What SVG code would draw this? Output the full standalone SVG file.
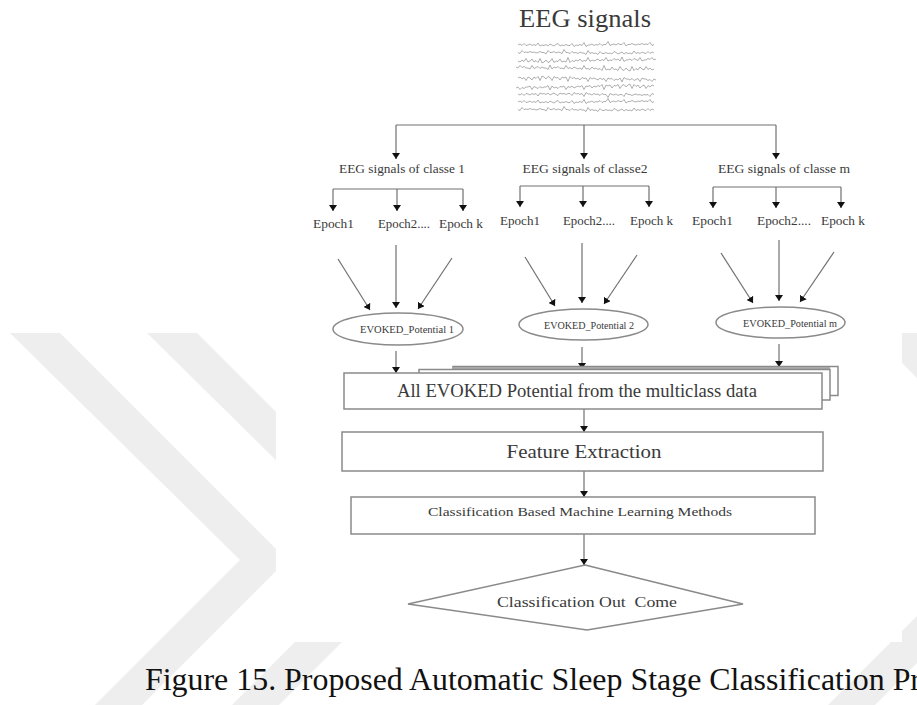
<svg xmlns="http://www.w3.org/2000/svg" width="917" height="705" viewBox="0 0 917 705">
  <style>
    .wm { fill: #eeeeee; }
    .ln { stroke: #707070; stroke-width: 1.2; fill: none; }
    .arr { stroke: #707070; stroke-width: 1.2; fill: none; marker-end: url(#ah); }
    .box { fill: #ffffff; stroke: #8a8a8a; stroke-width: 1.5; }
    .eeg { fill: none; stroke: #7a7a7a; stroke-width: 0.6; }
    .t { font-family: "Liberation Serif", "DejaVu Serif", serif; fill: #3a3a3a; text-anchor: middle; }
  </style>
  <defs>
    <marker id="ah" viewBox="0 0 6 8" refX="6" refY="4" markerWidth="6" markerHeight="8" orient="auto" markerUnits="userSpaceOnUse">
      <path d="M0,0 L6,4 L0,8 z" fill="#111"/>
    </marker>
    <path id="trA" d="M0,0 l2,-1 2,1.5 2,-2 2,2 2,-0.5 2,-1 2,1.5 2,-1 2,1 2,-2.5 2,3 2,-1 2,0.5 2,-1 2,1.5 2,-2 2,1 2,1 2,-1.5 2,-1 2,2.5 2,-1 2,0.5 2,-1 2,1 2,0 2,-2 2,3 2,-1.5 2,0.5 2,-1 2,1 2,-3 2,4 2,-1.5 2,0 2,-1 2,1.5 2,-1 2,0.5 2,-1.5 2,2 2,-1 2,0 2,-3 2,4 2,-1 2,-0.5 2,1 2,-1.5 2,1 2,0 2,-2 2,3.5 2,-1.5 2,0 2,-1 2,1 2,0.5 2,-1 2,0.5 2,-1 2,1 2,-0.5 2,0.5 2,-2 2,3 2,-1"/>
    <path id="trB" d="M0,0 l2,1 2,-2 2,1.5 2,-3 2,3.5 2,-1 2,-2 2,3 2,-1.5 2,2 2,-4 2,4.5 2,-1 2,-2 2,2.5 2,-1 2,-3 2,4 2,-1.5 2,0.5 2,-2.5 2,3 2,-1 2,1 2,-4.5 2,5 2,-2 2,1 2,-1.5 2,1 2,-2 2,2.5 2,-1 2,0.5 2,-3.5 2,4 2,-1.5 2,1 2,-1 2,-1 2,2 2,-1.5 2,1 2,-3 2,3.5 2,-1 2,0.5 2,-2 2,1.5 2,-1 2,2 2,-4 2,4.5 2,-1.5 2,0 2,-1 2,1.5 2,-2 2,1 2,1 2,-3 2,3.5 2,-1 2,0 2,-1.5 2,1 2,-2 2,2.5 2,-1"/>
  </defs>

  <!-- page watermark chevrons -->
  <g id="watermark">
    <polygon class="wm" points="10,333 60,333 287,560 142,705 95,705 240,560"/>
    <polygon class="wm" points="147,333 197,333 424,560 279,705 232,705 377,560"/>
    <polygon class="wm" points="973,560 1020,560 875,705 828,705"/>
    <polygon class="wm" points="895,333 917,333 917,378 902,363"/>
  </g>

  <!-- figure panel -->
  <rect x="276" y="0" width="626" height="642" fill="#ffffff"/>

  <g id="eeg-signals">
    <text class="t" x="585" y="27" font-size="25" textLength="132" lengthAdjust="spacingAndGlyphs" fill="#222">EEG signals</text>
    <use href="#trA" class="eeg" x="518" y="45"/>
    <use href="#trA" class="eeg" transform="translate(654,53) scale(-1,1)"/>
    <use href="#trB" class="eeg" x="518" y="61"/>
    <use href="#trB" class="eeg" transform="translate(654,69) scale(-1,1)"/>
    <use href="#trB" class="eeg" transform="translate(518,78) scale(1,-1)"/>
    <use href="#trB" class="eeg" transform="translate(654,86) scale(-1,-1)"/>
    <use href="#trA" class="eeg" transform="translate(518,94) scale(1,-1)"/>
    <use href="#trA" class="eeg" x="518" y="102"/>
    <use href="#trA" class="eeg" transform="translate(654,110) scale(-1,1)"/>
  </g>

  <g id="connectors">
    <!-- split into classes -->
    <polyline class="ln" points="396,125 776,125"/>
    <line class="arr" x1="396" y1="125" x2="396" y2="159"/>
    <line class="arr" x1="584" y1="125" x2="584" y2="159"/>
    <line class="arr" x1="776" y1="125" x2="776" y2="159"/>
    <!-- class 1 epochs -->
    <polyline class="ln" points="333,189 463,189"/>
    <line class="arr" x1="333" y1="189" x2="333" y2="211"/>
    <line class="arr" x1="397" y1="189" x2="397" y2="211"/>
    <line class="arr" x1="463" y1="189" x2="463" y2="211"/>
    <!-- class 2 epochs -->
    <polyline class="ln" points="520,186 649,186"/>
    <line class="arr" x1="520" y1="186" x2="520" y2="207"/>
    <line class="arr" x1="583" y1="186" x2="583" y2="207"/>
    <line class="arr" x1="649" y1="186" x2="649" y2="207"/>
    <!-- class m epochs -->
    <polyline class="ln" points="713,187 841,187"/>
    <line class="arr" x1="713" y1="187" x2="713" y2="208"/>
    <line class="arr" x1="776" y1="187" x2="776" y2="208"/>
    <line class="arr" x1="841" y1="187" x2="841" y2="208"/>
    <!-- epochs to evoked potentials -->
    <line class="arr" x1="338" y1="259" x2="370" y2="310"/>
    <line class="arr" x1="396" y1="245" x2="396" y2="308"/>
    <line class="arr" x1="452" y1="258" x2="418" y2="309"/>
    <line class="arr" x1="525" y1="257" x2="555" y2="306"/>
    <line class="arr" x1="582" y1="243" x2="582" y2="303"/>
    <line class="arr" x1="637" y1="255" x2="604" y2="304"/>
    <line class="arr" x1="721" y1="253" x2="753" y2="303"/>
    <line class="arr" x1="779" y1="240" x2="779" y2="301"/>
    <line class="arr" x1="834" y1="252" x2="800" y2="302"/>
    <!-- evoked potentials to stack -->
    <line class="arr" x1="396" y1="351" x2="396" y2="373"/>
    <line class="arr" x1="582" y1="347" x2="582" y2="369"/>
    <line class="arr" x1="779" y1="344" x2="779" y2="367"/>
    <!-- pipeline -->
    <line class="arr" x1="584" y1="409" x2="584" y2="432"/>
    <line class="arr" x1="584" y1="471" x2="584" y2="497"/>
    <line class="arr" x1="584" y1="534" x2="584" y2="565"/>
  </g>

  <g id="class-1">
    <text class="t" x="402" y="173" font-size="12.5" textLength="126" lengthAdjust="spacingAndGlyphs">EEG signals of classe 1</text>
  </g>
  <g id="class-2">
    <text class="t" x="585" y="173" font-size="12.5" textLength="125" lengthAdjust="spacingAndGlyphs">EEG signals of classe2</text>
  </g>
  <g id="class-m">
    <text class="t" x="784" y="173" font-size="12.5" textLength="132" lengthAdjust="spacingAndGlyphs">EEG signals of classe m</text>
  </g>

  <g id="epochs-1">
    <text class="t" x="333.5" y="228" font-size="12.5" textLength="41" lengthAdjust="spacingAndGlyphs">Epoch1</text>
    <text class="t" x="404" y="228" font-size="12.5" textLength="52" lengthAdjust="spacingAndGlyphs">Epoch2....</text>
    <text class="t" x="461" y="228" font-size="12.5" textLength="44" lengthAdjust="spacingAndGlyphs">Epoch k</text>
  </g>
  <g id="epochs-2">
    <text class="t" x="520" y="225" font-size="12.5" textLength="40" lengthAdjust="spacingAndGlyphs">Epoch1</text>
    <text class="t" x="589" y="225" font-size="12.5" textLength="52" lengthAdjust="spacingAndGlyphs">Epoch2....</text>
    <text class="t" x="651.5" y="225" font-size="12.5" textLength="43" lengthAdjust="spacingAndGlyphs">Epoch k</text>
  </g>
  <g id="epochs-m">
    <text class="t" x="712.5" y="225" font-size="12.5" textLength="41" lengthAdjust="spacingAndGlyphs">Epoch1</text>
    <text class="t" x="784" y="225" font-size="12.5" textLength="54" lengthAdjust="spacingAndGlyphs">Epoch2....</text>
    <text class="t" x="843" y="225" font-size="12.5" textLength="44" lengthAdjust="spacingAndGlyphs">Epoch k</text>
  </g>

  <g id="evoked-1">
    <ellipse class="box" cx="398" cy="329" rx="65" ry="16"/>
    <text class="t" x="407" y="333" font-size="10" textLength="94" lengthAdjust="spacingAndGlyphs">EVOKED_Potential 1</text>
  </g>
  <g id="evoked-2">
    <ellipse class="box" cx="583.5" cy="324.5" rx="64.5" ry="15.5"/>
    <text class="t" x="589" y="328.5" font-size="10" textLength="90" lengthAdjust="spacingAndGlyphs">EVOKED_Potential 2</text>
  </g>
  <g id="evoked-m">
    <ellipse class="box" cx="780.5" cy="322.5" rx="64.5" ry="15.5"/>
    <text class="t" x="790" y="326.5" font-size="10" textLength="94" lengthAdjust="spacingAndGlyphs">EVOKED_Potential m</text>
  </g>

  <g id="all-evoked">
    <rect class="box" x="453" y="366.5" width="385" height="29"/>
    <rect x="453" y="367" width="377" height="3" fill="#a8a8a8"/>
    <rect class="box" x="419" y="369.5" width="411" height="30.5"/>
    <rect class="box" x="344" y="373" width="478" height="36"/>
    <text class="t" x="577" y="397" font-size="18" textLength="360" lengthAdjust="spacingAndGlyphs">All EVOKED Potential from the multiclass data</text>
  </g>

  <g id="feature-extraction">
    <rect class="box" x="342" y="432" width="481" height="39"/>
    <text class="t" x="584" y="458" font-size="18" textLength="155" lengthAdjust="spacingAndGlyphs">Feature Extraction</text>
  </g>

  <g id="classification">
    <rect class="box" x="351" y="497" width="464" height="37"/>
    <text class="t" x="580" y="516" font-size="13" textLength="304" lengthAdjust="spacingAndGlyphs">Classification Based Machine Learning Methods</text>
  </g>

  <g id="outcome">
    <polygon class="box" points="585,565 743,604 587,630 408,604"/>
    <text class="t" x="587" y="607" font-size="15" textLength="180" lengthAdjust="spacingAndGlyphs" style="white-space:pre">Classification Out  Come</text>
  </g>

  <text x="145" y="690" font-family="'Liberation Serif', 'Times New Roman', serif" font-size="31.5" fill="#111" textLength="776" lengthAdjust="spacingAndGlyphs">Figure 15. Proposed Automatic Sleep Stage Classification Pr</text>
</svg>
